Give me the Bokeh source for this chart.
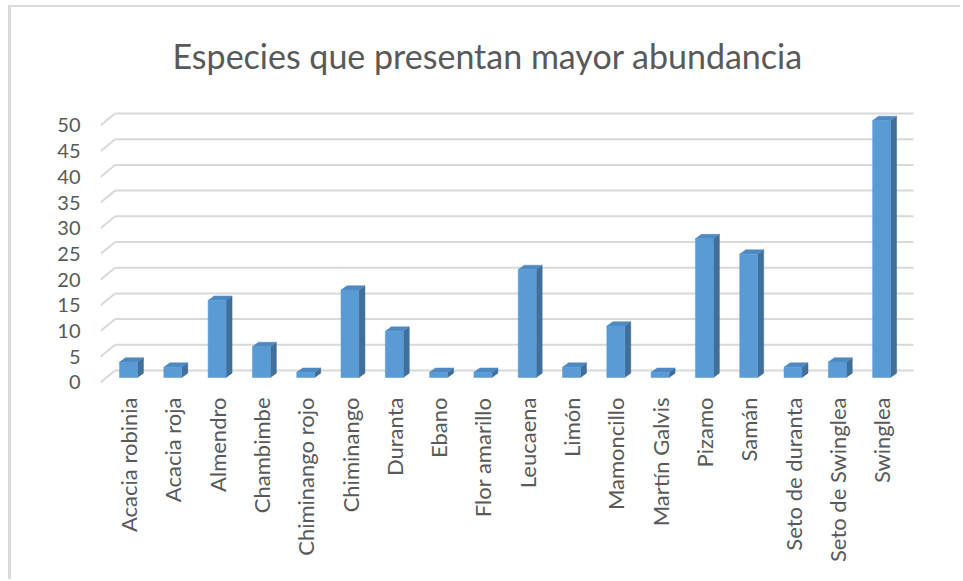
from bokeh.plotting import figure
from bokeh.models import Range1d, LinearAxis, FixedTicker
from bokeh.embed import file_html
from bokeh.resources import INLINE
import math

# ---- data ----
categories = ["Acacia robinia", "Acacia roja", "Almendro", "Chambimbe", "Chiminango rojo",
              "Chiminango", "Duranta", "Ebano", "Flor amarillo", "Leucaena", "Limón",
              "Mamoncillo", "Martín Galvis", "Pizamo", "Samán", "Seto de duranta",
              "Seto de Swinglea", "Swinglea"]
values = [3, 2, 15, 6, 1, 17, 9, 1, 1, 21, 2, 10, 1, 27, 24, 2, 3, 50]
y_ticks = [0, 5, 10, 15, 20, 25, 30, 35, 40, 45, 50]
title_text = "Especies que presentan mayor abundancia"

# ---- style / 3D geometry parameters ----
FONT = "Lato"
TXT = "#595959"
GRID = "#d9d9d9"
FRONT = "#5b9bd5"
SIDE = "#3f6f9a"
TOP = "#4f89c2"
bar_w = 0.406          # width of bar front face (category units)
bar_dx, bar_dy = 0.135, 0.85   # bar depth offset
floor_dy = -0.97       # front floor edge offset from bar plane (value units)
wall_dx, wall_dy = 0.33, 1.36  # back wall offset from bar plane

n = len(categories)
x_start, x_end = -0.632, 17.765
y_start, y_end = -1.556, 53.89

p = figure(width=952, height=574, output_backend="svg", toolbar_location=None,
           x_range=Range1d(x_start, x_end), y_range=Range1d(y_start, y_end),
           min_border_left=89, min_border_right=48, min_border_top=93, min_border_bottom=196,
           y_axis_location=None, x_axis_location=None)
p.outline_line_color = None
p.grid.visible = False
p.background_fill_color = "white"
p.border_fill_color = "white"
p.styles = {"margin-left": "8px", "margin-top": "5px",
            "border-left": "3px solid #dadada", "border-top": "2px solid #dadada"}

# title
p.title.text = title_text
p.title.text_font = FONT
p.title.text_font_size = "34px"
p.title.text_font_style = "normal"
p.title.text_color = TXT
p.title.align = "left"
p.title.offset = 72
p.title.standoff = 49

# gridlines: diagonal floor segment + back wall line
wall_left = x_start + wall_dx
wall_right = (n - 1) + 0.72
p.segment(x0=[x_start] * len(y_ticks), y0=[v + floor_dy for v in y_ticks],
          x1=[wall_left] * len(y_ticks), y1=[v + wall_dy for v in y_ticks],
          line_color=GRID, line_width=2)
p.segment(x0=[wall_left] * len(y_ticks), y0=[v + wall_dy for v in y_ticks],
          x1=[wall_right] * len(y_ticks), y1=[v + wall_dy for v in y_ticks],
          line_color=GRID, line_width=2)

# bars
xs = list(range(n))
side_x, side_y, top_x, top_y = [], [], [], []
for i, v in zip(xs, values):
    r = i + bar_w / 2
    l = i - bar_w / 2
    side_x.append([r, r + bar_dx, r + bar_dx, r])
    side_y.append([0, bar_dy, v + bar_dy, v])
    top_x.append([l, l + bar_dx, r + bar_dx, r])
    top_y.append([v, v + bar_dy, v + bar_dy, v])
p.patches(side_x, side_y, fill_color=SIDE, line_color=SIDE, line_width=0.5)
p.patches(top_x, top_y, fill_color=TOP, line_color=TOP, line_width=0.5)
p.vbar(x=xs, top=values, bottom=0, width=bar_w, fill_color=FRONT, line_color=FRONT, line_width=0.5)

# y axis (labels aligned with front floor edge)
p.extra_y_ranges = {"front": Range1d(y_start - floor_dy, y_end - floor_dy)}
yax = LinearAxis(y_range_name="front", ticker=FixedTicker(ticks=y_ticks))
yax.axis_line_color = None
yax.major_tick_line_color = None
yax.minor_tick_line_color = None
yax.major_tick_out = 0
yax.major_label_standoff = 20
yax.major_label_text_font = FONT
yax.major_label_text_font_size = "20px"
yax.major_label_text_color = TXT
p.add_layout(yax, "left")

# x axis with category labels
xax = LinearAxis(ticker=FixedTicker(ticks=xs),
                 major_label_overrides={i: c for i, c in zip(xs, categories)})
xax.axis_line_color = None
xax.major_tick_line_color = None
xax.minor_tick_line_color = None
xax.major_tick_out = 0
xax.major_label_standoff = 12
xax.major_label_orientation = math.pi / 2
xax.major_label_text_font = FONT
xax.major_label_text_font_size = "22px"
xax.major_label_text_color = TXT
p.add_layout(xax, "below")

open("out.html", "w").write(file_html(p, INLINE))
